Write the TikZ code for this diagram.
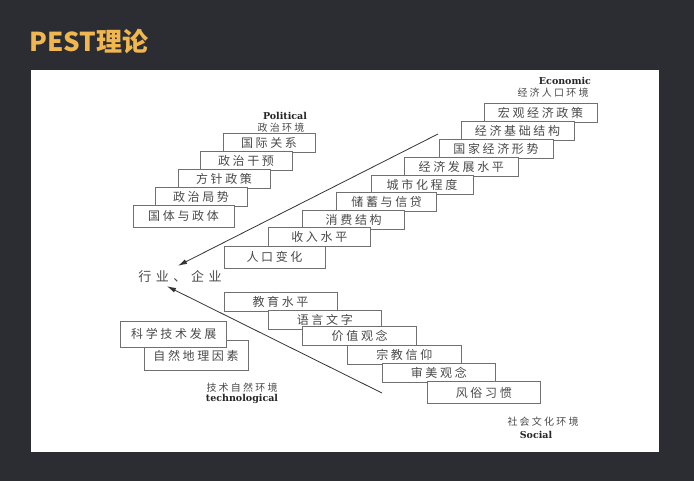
\documentclass[tikz,border=0pt]{standalone}
\usepackage{fontspec}
\usepackage{tikz}
\usetikzlibrary{arrows.meta}

\newfontfamily\cn[LetterSpace=22]{Noto Sans CJK SC}
\newfontfamily\cnwide[LetterSpace=35]{Noto Sans CJK SC}
\newfontfamily\titlefont{Noto Sans CJK SC}
\newfontfamily\labfont{DejaVu Serif}

\definecolor{bgdark}{HTML}{2C2D32}
\definecolor{titlegold}{HTML}{F0B64F}
\definecolor{boxline}{HTML}{707070}
\definecolor{boxtext}{HTML}{4A4A4A}

\begin{document}
\begin{tikzpicture}[x=1pt,y=-1pt,
  box/.style={draw=boxline, fill=white, line width=0.8pt, inner sep=0pt,
    minimum width=#1, minimum height=19pt, text=boxtext, font=\cn\fontsize{12}{12}\selectfont},
  box/.default=92pt,
  envlabel/.style={text=boxtext, inner sep=0pt, font=\cn\fontsize{10}{10}\selectfont},
  englabel/.style={text=black!85, inner sep=0pt, font=\labfont\bfseries\fontsize{9.5}{9.5}\selectfont},
  flow/.style={draw=black!80, line width=0.8pt, -{Latex[length=9pt,width=5pt]}}]

  % background and panel
  \fill[bgdark] (0,0) rectangle (694,481);
  \fill[white] (31,70) rectangle (659,452);
  \node[anchor=base west, inner sep=0pt, text=titlegold,
    font=\titlefont\bfseries\fontsize{26}{26}\selectfont] (title) at (29,52) {PEST理论};

  % political
  \node[englabel] (polEn) at (285,116) {Political};
  \node[envlabel] (polCn) at (281,128) {政治环境};
  \node[box] (p1) at (269,142.5) {国际关系};
  \node[box] (p2) at (246,161) {政治干预};
  \node[box] (p3) at (224,178.5) {方针政策};
  \node[box] (p4) at (201,196.5) {政治局势};
  \node[box=101pt, minimum height=22pt] (p5) at (183.5,216) {国体与政体};

  % economic
  \node[englabel] (ecoEn) at (565,81) {Economic};
  \node[envlabel] (ecoCn) at (553,93) {经济人口环境};
  \node[box=113pt] (e1) at (540.5,113) {宏观经济政策};
  \node[box=113pt] (e2) at (517.5,131) {经济基础结构};
  \node[box=114pt] (e3) at (496,149) {国家经济形势};
  \node[box=114pt] (e4) at (461.3,167) {经济发展水平};
  \node[box=102pt] (e5) at (422,184.5) {城市化程度};
  \node[box=100pt] (e6) at (386.7,202.2) {储蓄与信贷};
  \node[box=102pt] (e7) at (353.7,219.5) {消费结构};
  \node[box=102pt] (e8) at (319.3,236.8) {收入水平};
  \node[box=101pt, minimum height=22pt] (e9) at (274.5,257) {人口变化};

  % industry / firm
  \node[inner sep=0pt, text=boxtext, font=\cnwide\fontsize{13}{13}\selectfont] (firm) at (180,277) {行业、企业};

  % social
  \node[box=113pt] (s1) at (280.5,302) {教育水平};
  \node[box=113pt] (s2) at (324.8,319.5) {语言文字};
  \node[box=114pt] (s3) at (359.7,336.2) {价值观念};
  \node[box=114pt] (s4) at (404.3,354.5) {宗教信仰};
  \node[box=113pt] (s5) at (438.8,372.8) {审美观念};
  \node[box=113pt, minimum height=22pt] (s6) at (483.8,392.8) {风俗习惯};
  \node[envlabel] (socCn) at (543,422) {社会文化环境};
  \node[englabel] (socEn) at (536,435) {Social};

  % technological
  \node[box=104pt, minimum height=30pt, text depth=-8pt] (t2) at (196,355) {自然地理因素};
  \node[box=106pt, minimum height=25pt] (t1) at (173.8,334.4) {科学技术发展};
  \node[envlabel] (tecCn) at (242,388) {技术自然环境};
  \node[englabel] (tecEn) at (242,399) {technological};

  % arrows into the firm
  \coordinate (ecoEnd) at (438,134);
  \coordinate (socEnd) at (382,393);
  \draw[flow] (ecoEnd) -- ([xshift=-2pt,yshift=5pt]firm.north);
  \draw[flow] (socEnd) -- ([xshift=-13pt,yshift=-3pt]firm.south);
\end{tikzpicture}
\end{document}
